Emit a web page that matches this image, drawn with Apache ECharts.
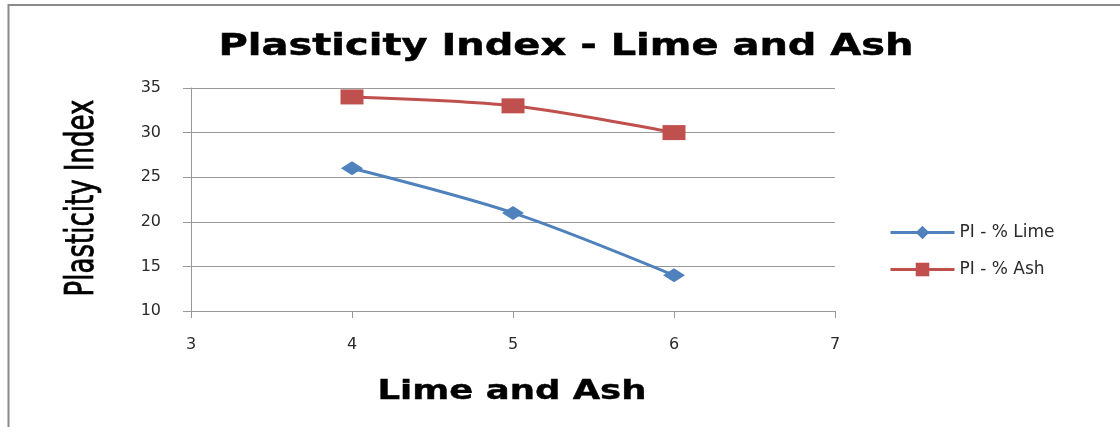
<!DOCTYPE html>
<html>
<head>
<meta charset="utf-8">
<style>
  html, body { margin: 0; padding: 0; background: #fff; }
  #chart { width: 1120px; height: 427px; }
</style>
<script src="https://cdn.jsdelivr.net/npm/echarts@6/dist/echarts.min.js"></script>
</head>
<body>
<div id="chart"></div>
<script>
// Plasticity index against lime / ash content
const xValues = [4, 5, 6];
const limePI = [26, 21, 14];
const ashPI = [34, 33, 30];
const seriesNames = ['PI - % Lime', 'PI - % Ash'];
const chartTitle = 'Plasticity Index - Lime and Ash';
const xAxisTitle = 'Lime and Ash';
const yAxisTitle = 'Plasticity Index';

// Text metrics helpers: stretch a heading to a width and put its baseline on a line
const ctx = document.createElement('canvas').getContext('2d');
function fitScale(str, font, targetWidth) {
  ctx.font = font;
  ctx.textBaseline = 'alphabetic';
  return targetWidth / ctx.measureText(str).width;
}
// Offset from the em-middle line (used with verticalAlign 'middle') down to the baseline
function middleToBaseline(font) {
  ctx.font = font;
  ctx.textBaseline = 'alphabetic';
  const a = ctx.measureText('H').actualBoundingBoxAscent;
  ctx.textBaseline = 'middle';
  const b = ctx.measureText('H').actualBoundingBoxAscent;
  ctx.textBaseline = 'alphabetic';
  return a - b;
}

const titleFont = 'bold 31px "DejaVu Sans"';
const xNameFont = 'bold 27px "DejaVu Sans"';
const yNameFont = '39px "DejaVu Sans Condensed", "DejaVu Sans"';

const chart = echarts.init(document.getElementById('chart'), null, { renderer: 'canvas' });

const gridColor = '#999999';
const labelStyle = { color: '#2a2a2a', fontFamily: '"DejaVu Sans"', fontSize: 16 };

chart.setOption({
  animation: false,
  backgroundColor: '#ffffff',
  grid: { left: 191, right: 285, top: 88, bottom: 116, containLabel: false },
  xAxis: {
    type: 'value', min: 3, max: 7, interval: 1,
    axisLine: { lineStyle: { color: gridColor, width: 1 } },
    axisTick: { show: true, length: 7, lineStyle: { color: gridColor } },
    splitLine: { show: false },
    axisLabel: Object.assign({ margin: 26 }, labelStyle)
  },
  yAxis: {
    type: 'value', min: 10, max: 35, interval: 5,
    axisLine: { show: true, lineStyle: { color: gridColor, width: 1 } },
    axisTick: { show: true, length: 8, lineStyle: { color: gridColor } },
    splitLine: { show: true, lineStyle: { color: gridColor, width: 1 } },
    axisLabel: Object.assign({ margin: 30 }, labelStyle)
  },
  legend: {
    orient: 'vertical',
    left: 889, top: 224, padding: 0,
    itemWidth: 64, itemHeight: 17, itemGap: 20,
    lineStyle: { width: 3 },
    textStyle: { color: '#2a2a2a', fontFamily: '"DejaVu Sans"', fontSize: 17 },
    data: seriesNames
  },
  series: [
    {
      name: seriesNames[0], type: 'line', smooth: 0.3,
      data: xValues.map((x, i) => [x, limePI[i]]),
      symbol: 'diamond', symbolSize: [22, 14],
      lineStyle: { color: '#4F81BD', width: 3 },
      itemStyle: { color: '#4F81BD' }
    },
    {
      name: seriesNames[1], type: 'line', smooth: 0.3,
      data: xValues.map((x, i) => [x, ashPI[i]]),
      symbol: 'rect', symbolSize: [23, 15],
      lineStyle: { color: '#C0504D', width: 3 },
      itemStyle: { color: '#C0504D' }
    }
  ],
  graphic: [
    // outer chart frame: top and left edges
    {
      type: 'polyline', silent: true,
      shape: { points: [[8.5, 440], [8.5, 5], [1130, 5]] },
      style: { fill: null, stroke: '#8a8a8a', lineWidth: 2 }
    },
    {
      type: 'text', x: 566, y: 55 - middleToBaseline(titleFont),
      scaleX: fitScale(chartTitle, titleFont, 695),
      style: { text: chartTitle, font: titleFont, fill: '#000', stroke: '#000', lineWidth: 0.5,
               textAlign: 'center', textVerticalAlign: 'middle' }
    },
    {
      type: 'text', x: 512, y: 399 - middleToBaseline(xNameFont),
      scaleX: fitScale(xAxisTitle, xNameFont, 269),
      style: { text: xAxisTitle, font: xNameFont, fill: '#000', stroke: '#000', lineWidth: 0.4,
               textAlign: 'center', textVerticalAlign: 'middle' }
    },
    {
      type: 'text', x: 93 - middleToBaseline(yNameFont), y: 198, rotation: Math.PI / 2,
      scaleX: fitScale(yAxisTitle, yNameFont, 197),
      style: { text: yAxisTitle, font: yNameFont, fill: '#000', stroke: '#000', lineWidth: 0.8,
               textAlign: 'center', textVerticalAlign: 'middle' }
    }
  ]
});
</script>
</body>
</html>
